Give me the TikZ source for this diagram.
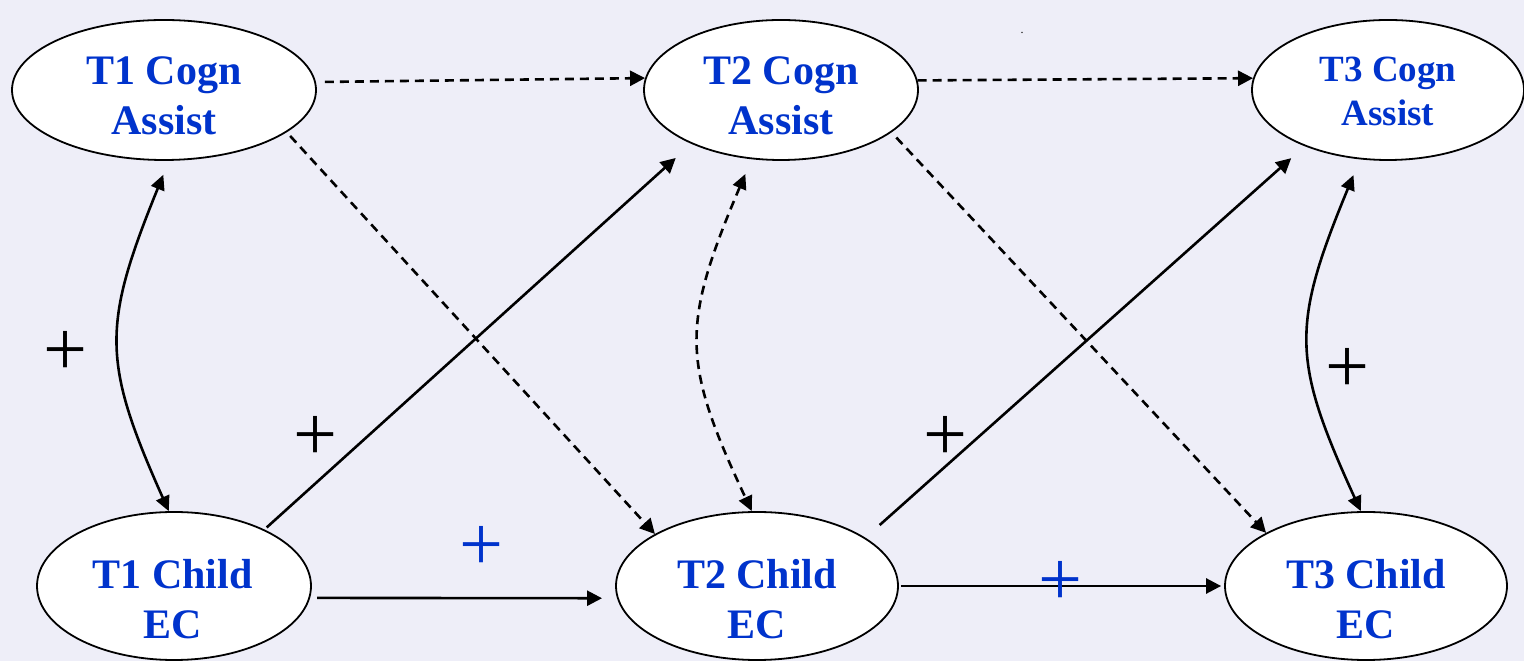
\documentclass[tikz,border=0pt]{standalone}
\usepackage{fontspec}
\setmainfont{Liberation Serif}
\usetikzlibrary{arrows.meta,shapes.geometric}
\definecolor{bgcol}{RGB}{238,238,248}
\definecolor{labelblue}{RGB}{0,51,204}

\begin{document}
\begin{tikzpicture}[x=1pt,y=1pt,
  latent/.style={ellipse, draw=black, line width=1.8pt, fill=white, inner sep=0pt},
  lbl/.style={text=labelblue, font=\bfseries\fontsize{42}{50}\selectfont, align=center, inner sep=0pt},
  lblsmall/.style={lbl, font=\bfseries\fontsize{37}{44}\selectfont},
  conn/.style={line width=2.6pt, -{Triangle[length=15pt,width=15pt]}},
  dashconn/.style={conn, dash pattern=on 9pt off 6pt},
  both/.style={line width=2.6pt, {Triangle[length=15pt,width=14pt]}-{Triangle[length=15pt,width=14pt]}},
  bothdash/.style={both, dash pattern=on 9pt off 6pt},
  plussign/.style={font=\fontsize{78}{78}\selectfont, inner sep=0pt},
]
% canvas
\fill[bgcol] (0,0) rectangle (1524,661);
\useasboundingbox (0,0) rectangle (1524,661);

% latent variables
\node[latent, minimum width=304pt, minimum height=140pt] (t1c) at (164,571) {};
\node[latent, minimum width=274pt, minimum height=140pt] (t2c) at (781,571) {};
\node[latent, minimum width=272pt, minimum height=140pt] (t3c) at (1388,571) {};
\node[latent, minimum width=274pt, minimum height=148pt] (t1e) at (174,75) {};
\node[latent, minimum width=282pt, minimum height=148pt] (t2e) at (757,75) {};
\node[latent, minimum width=282pt, minimum height=148pt] (t3e) at (1366,75) {};

% their labels
\node[lbl] (t1c-text) at ([yshift=-6pt]t1c.center) {T1 Cogn\\Assist};
\node[lbl] (t2c-text) at ([yshift=-6pt]t2c.center) {T2 Cogn\\Assist};
\node[lblsmall] (t3c-text) at ([yshift=-1.5pt]t3c.center) {T3 Cogn\\Assist};
\node[lbl] (t1e-text) at ([xshift=-1.5pt,yshift=-13pt]t1e.center) {T1 Child\\EC};
\node[lbl] (t2e-text) at ([yshift=-13pt]t2e.center) {T2 Child\\EC};
\node[lbl] (t3e-text) at ([yshift=-13pt]t3e.center) {T3 Child\\EC};

% stability of cognitive assistance
\draw[dashconn, shorten <=9pt] (t1c.3.8) -- (t2c.175.8);
\draw[dashconn] (t2c.4.2) -- (t3c.175.8);

% assistance -> later effortful control
\draw[dashconn, shorten <=5pt] (t1c.-19.9) -- (t2e.153.4);
\draw[dashconn, shorten <=7pt] (t2c.-21.2) -- (t3e.152.8);

% effortful control -> later assistance
\draw[conn, shorten <=3pt, shorten >=21pt] (t1e.32.2) -- (t2c.-149.35);
\draw[conn, shorten <=19pt, shorten >=18pt] (t2e.24.3) -- (t3c.-146.7);

% stability of effortful control
\draw[conn, shorten <=7pt, shorten >=15pt] (t1e.-5.5) -- (t2e.185.35);
\draw[conn, shorten <=2pt, shorten >=3pt] (t2e.-0.8) -- (t3e.180.8);

% within-time covariances
\draw[both, shorten <=15pt] (t1c.-86.7) .. controls +(-67,-165) and +(-67,150) .. (t1e.94.6);
\draw[bothdash, shorten <=16pt] (t2c.-113) .. controls +(-71,-167) and +(-70,149) .. (t2e.94.5);
\draw[both, shorten <=17pt] (t3c.-112.2) .. controls +(-69,-167) and +(-69,151) .. (t3e.94.6);

% signs
\node[plussign] (p1) at (65,308) {+};
\node[plussign] (p2) at (315,223) {+};
\node[plussign] (p3) at (945,223) {+};
\node[plussign] (p4) at (1347,291) {+};
\node[plussign, text=labelblue] (p5) at (481,113) {+};
\node[plussign, text=labelblue] (p6) at (1060,78) {+};

% stray mark
\node[inner sep=0pt, font=\fontsize{12}{12}\selectfont] (dot) at (1022,628) {.};
\end{tikzpicture}
\end{document}
